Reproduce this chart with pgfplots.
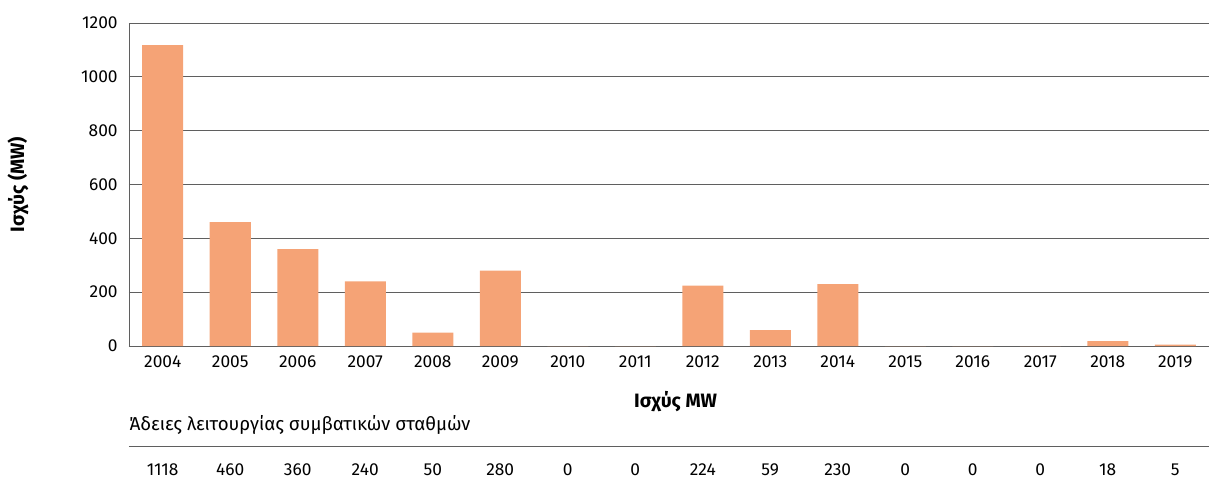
\documentclass[border=0pt]{standalone}
\usepackage{fontspec}
\setmainfont{Fira Sans}
\usepackage{pgfplots}
\usepackage{pgfplotstable}
\pgfplotsset{compat=1.18}
\definecolor{barc}{RGB}{245,163,118}
\definecolor{gridc}{RGB}{95,95,95}
\pgfplotstableread{
idx val
0 1118
1 460
2 360
3 240
4 50
5 280
6 0
7 0
8 224
9 59
10 230
11 0
12 0
13 0
14 18
15 5
}\data
\begin{document}
\begin{tikzpicture}[font=\fontsize{13}{15}\selectfont]
\begin{axis}[
 at={(0,0)}, anchor=south west,
 scale only axis, width=810pt, height=242.25pt,
 xmin=-0.5, xmax=15.5, ymin=0, ymax=1200,
 ytick={0,200,...,1200},
 xtick={0,...,15},
 xticklabels={2004,2005,2006,2007,2008,2009,2010,2011,2012,2013,2014,2015,2016,2017,2018,2019},
 ymajorgrids, grid style={gridc, line width=0.6pt},
 axis x line*=bottom, axis y line*=left,
 axis line style={gridc, line width=0.6pt, -},
 major tick length=0,
 tick label style={font=\fontsize{13}{15}\selectfont},
 /pgf/number format/assume math mode=true,
 /pgf/number format/1000 sep={},
 yticklabel style={xshift=-5pt},
 xticklabel style={yshift=-4pt},
 clip=false,
]
\addplot[ybar, bar width=30.75pt, fill=barc, draw=none] table[x=idx, y=val]{\data};
\addplot[only marks, mark=none, point meta=explicit symbolic,
  nodes near coords, nodes near coords style={anchor=center, font=\fontsize{13}{15}\selectfont}]
  table[x=idx, y expr=-460.7, meta=val]{\data};
\node[font=\fontsize{14.5}{16}\selectfont\bfseries] at ([xshift=5pt,yshift=-42pt]rel axis cs:0.5,0) {Ισχύς MW};
\node[anchor=west, inner sep=0pt, font=\fontsize{14}{16}\selectfont] at ([yshift=-59.25pt]rel axis cs:0,0) {Άδειες λειτουργίας συμβατικών σταθμών};
\draw[gridc, line width=0.6pt] ([yshift=-75pt]rel axis cs:0,0) -- ([yshift=-75pt]rel axis cs:1,0);
\node[rotate=90, font=\fontsize{14.5}{16}\selectfont\bfseries] at ([xshift=-83.25pt]rel axis cs:0,0.5) {Ισχύς (MW)};
\end{axis}
\pgfresetboundingbox
\path (-96.75pt,-102pt) rectangle (810pt,259.5pt);
\end{tikzpicture}
\end{document}
